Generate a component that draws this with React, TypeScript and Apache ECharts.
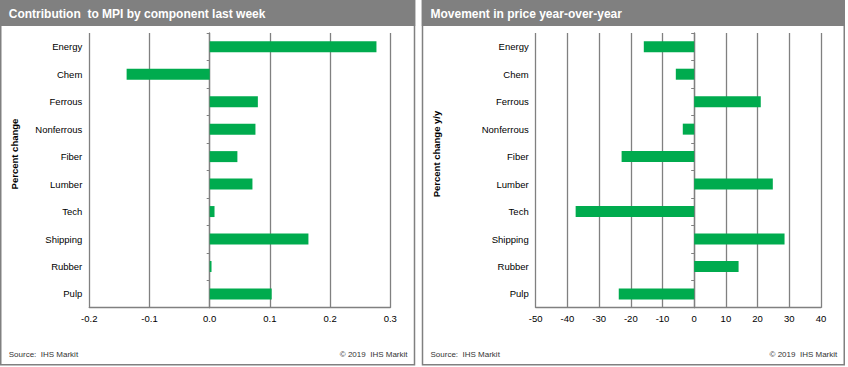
import React, { useEffect, useRef } from "react";
import * as echarts from "echarts";

const categories = ["Energy", "Chem", "Ferrous", "Nonferrous", "Fiber", "Lumber", "Tech", "Shipping", "Rubber", "Pulp"];
const contribution = [0.277, -0.138, 0.08, 0.076, 0.046, 0.071, 0.008, 0.164, 0.003, 0.103];
const yoyMovement = [-15.9, -5.8, 21.0, -3.6, -22.9, 24.8, -37.4, 28.5, 14.0, -23.8];
const leftTicks = { min: -0.2, max: 0.3, interval: 0.1 };
const rightTicks = { min: -50, max: 40, interval: 10 };
const titles = ["Contribution  to MPI by component last week", "Movement in price year-over-year"];
const axisNames = ["Percent change", "Percent change y/y"];
const sourceText = "Source:  IHS Markit";
const copyrightText = "\u00a9 2019  IHS Markit";

const GRAY = "#808080";
const GREEN = "#00AB4E";
const FONT = "'Liberation Sans', Arial, sans-serif";

export default function App() {
  const ref = useRef<HTMLDivElement>(null);
  useEffect(() => {
    if (!ref.current) return;
    const chart = echarts.init(ref.current, undefined, { renderer: "svg" });

    const labelStyle = { fontSize: 9.5, color: "#000", fontFamily: FONT };

    const makeX = (idx: number, t: { min: number; max: number; interval: number }, fmt: (v: number) => string) => ({
      type: "value",
      gridIndex: idx,
      min: t.min,
      max: t.max,
      interval: t.interval,
      axisLine: { show: true, onZero: false, lineStyle: { color: GRAY, width: 1.3 } },
      axisTick: { show: false },
      axisLabel: { ...labelStyle, margin: 6, formatter: fmt },
      splitLine: { show: true, lineStyle: { color: GRAY, width: 1.3 } },
    });

    const makeYLabels = (idx: number) => ({
      type: "category",
      gridIndex: idx,
      data: categories,
      inverse: true,
      position: "left",
      axisLine: { show: false, onZero: false },
      axisTick: { show: false },
      axisLabel: { ...labelStyle, margin: 7 },
      splitLine: { show: false },
    });
    const makeYLine = (idx: number) => ({
      type: "category",
      gridIndex: idx,
      data: categories,
      inverse: true,
      position: "left",
      axisLine: { show: true, onZero: true, lineStyle: { color: GRAY, width: 1.3 } },
      axisTick: { show: true, length: 3, lineStyle: { color: GRAY, width: 1 } },
      axisLabel: { show: false },
      splitLine: { show: false },
    });

    const panel = (x: number, w: number, i: number) => [
      {
        type: "rect",
        shape: { x: x, y: 0.75, width: w, height: 364 },
        style: { fill: "#fff", stroke: GRAY, lineWidth: 1.5 },
        z: -10,
      },
      {
        type: "rect",
        shape: { x: x - 0.75, y: 0, width: w + 1.5, height: 26 },
        style: { fill: GRAY },
        z: -5,
      },
      {
        type: "text",
        x: x + 8,
        y: 14,
        style: {
          text: titles[i],
          fill: "#fff",
          font: `bold 12px ${FONT}`,
          textVerticalAlign: "middle",
        },
      },
      {
        type: "text",
        x: x + 8,
        y: 354,
        style: { text: sourceText, fill: "#333", font: `8px ${FONT}`, textVerticalAlign: "middle" },
      },
      {
        type: "text",
        x: x + w - 7,
        y: 354,
        style: {
          text: copyrightText,
          fill: "#333",
          font: `8px ${FONT}`,
          textAlign: "right",
          textVerticalAlign: "middle",
        },
      },
    ];

    chart.setOption({
      animation: false,
      backgroundColor: "#fff",
      grid: [
        { left: 89.3, right: 848 - 390.3, top: 33, bottom: 367 - 307.7 },
        { left: 535.7, right: 848 - 821, top: 33, bottom: 367 - 307.7 },
      ],
      xAxis: [
        makeX(0, leftTicks, (v: number) => v.toFixed(1)),
        makeX(1, rightTicks, (v: number) => String(Math.round(v))),
      ],
      yAxis: [makeYLabels(0), makeYLine(0), makeYLabels(1), makeYLine(1)],
      series: [
        {
          type: "bar",
          xAxisIndex: 0,
          yAxisIndex: 0,
          data: contribution,
          barWidth: 11,
          itemStyle: { color: GREEN },
          z: 3,
        },
        {
          type: "bar",
          xAxisIndex: 1,
          yAxisIndex: 2,
          data: yoyMovement,
          barWidth: 11,
          itemStyle: { color: GREEN },
          z: 3,
        },
      ],
      graphic: [
        ...panel(0.75, 413.75, 0),
        ...panel(422.5, 421.75, 1),
        {
          type: "text",
          x: 14,
          y: 154,
          rotation: Math.PI / 2,
          style: {
            text: axisNames[0],
            fill: "#000",
            font: `bold 9.5px ${FONT}`,
            textAlign: "center",
            textVerticalAlign: "middle",
          },
        },
        {
          type: "text",
          x: 436,
          y: 154,
          rotation: Math.PI / 2,
          style: {
            text: axisNames[1],
            fill: "#000",
            font: `bold 9.5px ${FONT}`,
            textAlign: "center",
            textVerticalAlign: "middle",
          },
        },
      ],
    });
    return () => chart.dispose();
  }, []);
  return (
    <div
      ref={ref}
      style={{ position: "absolute", left: 0, top: 0, width: 848, height: 367 }}
    />
  );
}
